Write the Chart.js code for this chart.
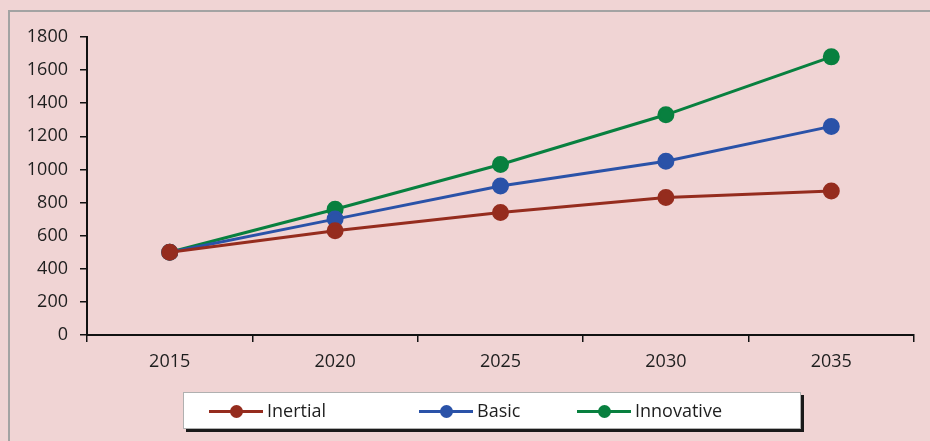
<!DOCTYPE html>
<html>
<head>
<meta charset="utf-8">
<script src="https://cdn.jsdelivr.net/npm/chart.js@4"></script>
<style>
  html, body { margin: 0; padding: 0; background: #f0d4d4; overflow: hidden; }
  #wrap { position: relative; width: 930px; height: 441px; background: #f0d4d4; overflow: hidden; }
  #frame { position: absolute; left: 8px; top: 10px; width: 960px; height: 470px; border: 2px solid #a3a3a3; box-sizing: border-box; }
  #chart { position: absolute; left: 0; top: 0; }
  #legend { position: absolute; left: 183px; top: 392px; width: 618px; height: 37px; background: #fff;
            border: 1px solid #b0b0b0; box-sizing: border-box; box-shadow: 3px 3px 0 #1a1a1a; }
  .item { position: absolute; top: 0; height: 35px; line-height: 35px; font-family: "Open Sans", sans-serif; font-size: 18px; color: #1e1e1e; white-space: nowrap; }
  .swatch { position: absolute; top: 17px; left: 0; width: 54px; height: 3px; }
  .dot { position: absolute; left: 21px; top: -5px; width: 13px; height: 13px; border-radius: 50%; }
  .label { position: absolute; left: 58px; top: 0; }
</style>
</head>
<body>
<div id="wrap">
  <div id="frame"></div>
  <canvas id="chart" width="930" height="441"></canvas>
  <div id="legend"></div>
</div>
<script>
document.addEventListener("DOMContentLoaded", function () {
  const years = ["2015", "2020", "2025", "2030", "2035"];
  const inertialData = [500, 630, 740, 830, 870];
  const basicData = [500, 700, 900, 1050, 1260];
  const innovativeData = [500, 760, 1030, 1330, 1680];
  const seriesNames = ["Inertial", "Basic", "Innovative"];
  const seriesColors = ["#952c1e", "#2a52a8", "#08803f"];

  const allData = [inertialData, basicData, innovativeData];
  const datasets = seriesNames.map(function (name, i) {
    return {
      label: name,
      data: allData[i],
      borderColor: seriesColors[i],
      backgroundColor: seriesColors[i],
      pointBackgroundColor: seriesColors[i],
      pointBorderColor: seriesColors[i],
      borderWidth: 3,
      pointRadius: 7,
      pointHoverRadius: 7,
      tension: 0,
      fill: false,
    };
  });

  const tickFont = { family: "'Open Sans', sans-serif", size: 18 };

  new Chart(document.getElementById("chart"), {
    type: "line",
    data: { labels: years, datasets: datasets },
    options: {
      responsive: false,
      animation: false,
      layout: { padding: { top: 37, right: 16, bottom: 0, left: 0 } },
      plugins: { legend: { display: false }, tooltip: { enabled: false } },
      scales: {
        x: {
          offset: true,
          grid: { offset: true, drawOnChartArea: false, tickLength: 7, color: "#111", lineWidth: 1.5 },
          border: { color: "#111", width: 2 },
          ticks: { padding: 9, color: "#1e1e1e", font: tickFont },
          afterFit: function (s) { s.height = 106; },
        },
        y: {
          min: 0,
          max: 1800,
          ticks: {
            stepSize: 200,
            padding: 12,
            color: "#1e1e1e",
            font: tickFont,
            callback: function (v) { return String(v); },
          },
          grid: { drawOnChartArea: false, tickLength: 7, color: "#111", lineWidth: 1.5 },
          border: { color: "#111", width: 2 },
          afterFit: function (s) { s.width = 87; },
        },
      },
    },
  });

  // legend
  const legend = document.getElementById("legend");
  const itemLeft = [25, 235, 393];
  seriesNames.forEach(function (name, i) {
    const item = document.createElement("div");
    item.className = "item";
    item.style.left = itemLeft[i] + "px";
    item.innerHTML = '<span class="swatch" style="background:' + seriesColors[i] + '">' +
      '<span class="dot" style="background:' + seriesColors[i] + '"></span></span>' +
      '<span class="label">' + name + '</span>';
    legend.appendChild(item);
  });
});
</script>
</body>
</html>
